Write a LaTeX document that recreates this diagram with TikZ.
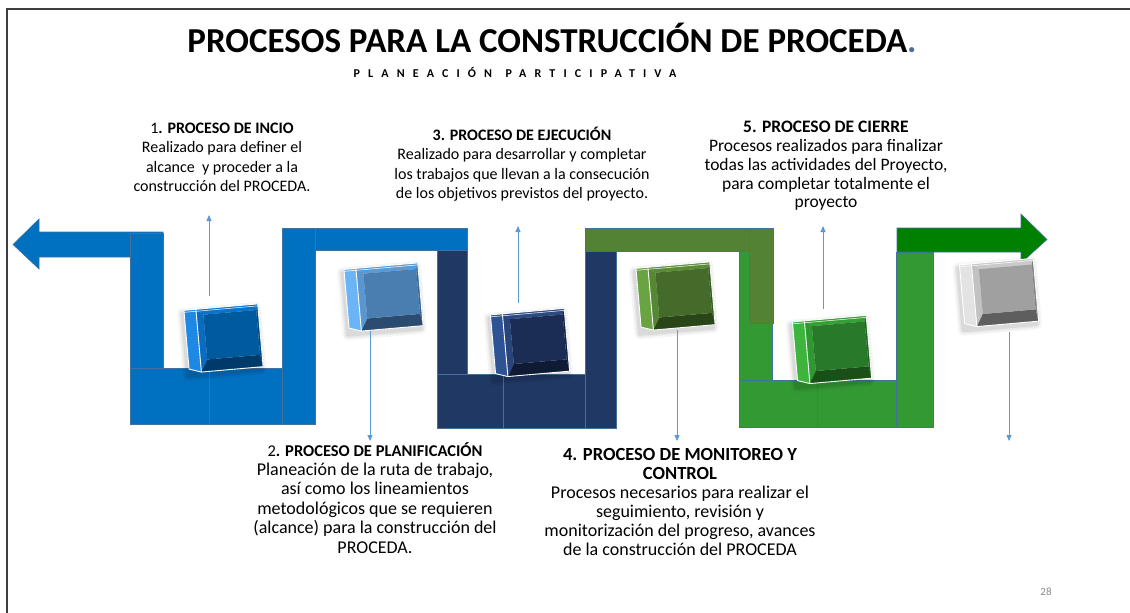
\documentclass[tikz,border=0pt]{standalone}
\usepackage{fontspec}
\setmainfont{Carlito}
\usetikzlibrary{arrows.meta}
\definecolor{cblue}{HTML}{0070C0}
\definecolor{cnavy}{HTML}{203864}
\definecolor{colive}{HTML}{548235}
\definecolor{cgreen}{HTML}{339933}
\definecolor{cdgreen}{HTML}{008000}
\definecolor{cedge}{HTML}{41719C}
\definecolor{cconn}{HTML}{5B9BD5}
\definecolor{cframe}{HTML}{404040}
\definecolor{cdot}{HTML}{4F6D9A}
\definecolor{cpage}{HTML}{8C8C8C}
% box colours: side, top, left, face, right, bottom
\definecolor{aS}{HTML}{1E88E5}\definecolor{aT}{HTML}{0A74CC}\definecolor{aL}{HTML}{0A6CC0}\definecolor{aF}{HTML}{005A9E}\definecolor{aR}{HTML}{004A85}\definecolor{aB}{HTML}{003A6B}
\definecolor{bS}{HTML}{6BB5F7}\definecolor{bT}{HTML}{5B9BD5}\definecolor{bL}{HTML}{5A96CF}\definecolor{bF}{HTML}{4A7DB0}\definecolor{bR}{HTML}{3A6591}\definecolor{bB}{HTML}{2B4C70}
\definecolor{cS}{HTML}{2E5395}\definecolor{cT}{HTML}{2A4A80}\definecolor{cL}{HTML}{27457A}\definecolor{cF}{HTML}{1B2D55}\definecolor{cR}{HTML}{152445}\definecolor{cB}{HTML}{0F1A35}
\definecolor{dS}{HTML}{6AA341}\definecolor{dT}{HTML}{5A8C37}\definecolor{dL}{HTML}{568735}\definecolor{dF}{HTML}{446B29}\definecolor{dR}{HTML}{38591F}\definecolor{dB}{HTML}{2A4517}
\definecolor{eS}{HTML}{3DB53D}\definecolor{eT}{HTML}{34A034}\definecolor{eL}{HTML}{309830}\definecolor{eF}{HTML}{287A2A}\definecolor{eR}{HTML}{206620}\definecolor{eB}{HTML}{185018}
\definecolor{fS}{HTML}{E3E3E3}\definecolor{fT}{HTML}{C9C9C9}\definecolor{fL}{HTML}{C2C2C2}\definecolor{fF}{HTML}{A0A0A0}\definecolor{fR}{HTML}{808080}\definecolor{fB}{HTML}{5E5E5E}
% #1 name, #2 x, #3 y, #4 colour prefix
\newcommand\bevbox[4]{%
  \coordinate (#1) at (#2,#3);
  \begin{scope}[shift={(#2,#3)},rotate=5]
    \foreach \s/\o in {5/0.04,3/0.05,1.5/0.06}
      \fill[black,opacity=\o,rounded corners=\s pt] (-37-\s-2,-31-\s+3) rectangle (37+\s-2,32+\s+3);
    \fill[#4S] (-37,-31) -- (-25,-31) -- (-25,32) -- (-37,28) -- cycle;
    \fill[#4T] (-25,-31) -- (37,-31) -- (35,-25) -- (-18,-25) -- cycle;
    \fill[#4L] (-25,-31) -- (-18,-25) -- (-18,20) -- (-25,32) -- cycle;
    \fill[#4B] (-25,32) -- (37,32) -- (35,20) -- (-18,20) -- cycle;
    \fill[#4R] (37,-31) -- (37,32) -- (35,20) -- (35,-25) -- cycle;
    \fill[#4F] (-18,-25) rectangle (35,20);
    \draw[white,line width=0.9pt,line join=round] (-37,-31) -- (37,-31) -- (37,32) -- (-25,32) -- (-37,28) -- cycle;
    \draw[white,line width=0.9pt] (-25,-31) -- (-25,32);
    \draw[white,line width=0.5pt] (-37,-29) -- (37,-29);
  \end{scope}}
\begin{document}
\begin{tikzpicture}[x=1pt,y=-1pt,
  piece/.style={draw=cedge,line width=0.6pt},
  conn/.style={draw=cconn,line width=0.9pt,-{Triangle[width=5pt,length=6pt]}},
  txt/.style={align=center,inner sep=0pt,text=black}]
\useasboundingbox (0,0) rectangle (1130,613);
\fill[white] (0,0) rectangle (1130,613);
% frame
\draw[cframe,line width=1.5pt] (7,613) -- (7,9) -- (1130,9);
% titles
\node[anchor=base,inner sep=0pt,font=\fontsize{35}{38}\selectfont\bfseries] (title) at (552,52) {PROCESOS PARA LA CONSTRUCCIÓN DE PROCEDA\textcolor{cdot}{.}};
\node[anchor=base,inner sep=0pt,font=\fontsize{12}{13}\selectfont\bfseries\addfontfeature{LetterSpace=68}] (sub) at (515,77) {PLANEACIÓN\hspace{2.5pt} PARTICIPATIVA};
% ---- blue pieces
\filldraw[piece,fill=cblue] (163,232) -- (39,232) -- (39,219) -- (13,244.5) -- (39,269) -- (39,257) -- (163,257) -- cycle;
\filldraw[piece,fill=cblue] (130,233) rectangle (163,424);
\filldraw[piece,fill=cblue] (130,368) rectangle (209,424);
\filldraw[piece,fill=cblue] (209,368) rectangle (315,424);
\filldraw[piece,fill=cblue] (282,228) rectangle (467,250);
\filldraw[piece,fill=cblue] (282,228) rectangle (315,424);
\fill[cblue] (283,229) rectangle (314,249);
% ---- navy pieces
\filldraw[piece,fill=cnavy] (437,250) rectangle (467,428);
\filldraw[piece,fill=cnavy] (437,374) rectangle (503,428);
\filldraw[piece,fill=cnavy] (503,374) rectangle (616,428);
\filldraw[piece,fill=cnavy] (585,251) rectangle (616,428);
\fill[cnavy] (586,375) rectangle (615,427);
% ---- green pieces
\filldraw[piece,fill=cgreen] (739,251) rectangle (772,427);
\filldraw[piece,fill=colive] (585,228) rectangle (773,251);
\filldraw[piece,fill=colive] (749,228) rectangle (773,323);
\fill[colive] (750,229) rectangle (772,250);
\filldraw[piece,fill=cgreen] (739,380) rectangle (817,427);
\filldraw[piece,fill=cgreen] (817,380) rectangle (933,427);
\filldraw[piece,fill=cgreen] (896,252) rectangle (933,427);
\fill[cgreen] (897,381) rectangle (932,426);
\filldraw[piece,fill=cdgreen] (897,228) -- (1021,228) -- (1021,214) -- (1047,239.5) -- (1021,263) -- (1021,252) -- (897,252) -- cycle;
% ---- boxes
\bevbox{b1}{223.5}{338}{a}
\bevbox{b2}{383.5}{297}{b}
\bevbox{b3}{530}{342.5}{c}
\bevbox{b4}{675.5}{296}{d}
\bevbox{b5}{832}{349.5}{e}
\bevbox{b6}{999}{292.5}{f}
% ---- connector ends
\coordinate (s1) at (209,296); \coordinate (e1) at (209,215);
\coordinate (s2) at (370,331); \coordinate (e2) at (370,441);
\coordinate (s3) at (518,303); \coordinate (e3) at (518,226);
\coordinate (s4) at (677,330); \coordinate (e4) at (677,441);
\coordinate (s5) at (823,309); \coordinate (e5) at (823,226);
\coordinate (s6) at (1009,332); \coordinate (e6) at (1009,441);
\draw[conn] (s1) -- (e1);
\draw[conn] (s2) -- (e2);
\draw[conn] (s3) -- (e3);
\draw[conn] (s4) -- (e4);
\draw[conn] (s5) -- (e5);
\draw[conn] (s6) -- (e6);
% ---- texts (base anchor = baseline of last line)
\node[txt,anchor=base,font=\fontsize{16}{19.5}\selectfont] (t1) at (222,191.5) {1\textbf{. PROCESO DE INCIO}\\Realizado para definer el\\alcance\ \ y proceder a la\\construcción del PROCEDA.};
\node[txt,anchor=base,font=\fontsize{16}{19.5}\selectfont] (t3) at (522,198.5) {\textbf{3. PROCESO DE EJECUCIÓN}\\Realizado para desarrollar y completar\\los trabajos que llevan a la consecución\\de los objetivos previstos del proyecto.};
\node[txt,anchor=base,font=\fontsize{17.5}{18.8}\selectfont] (t5) at (826,207.8) {\textbf{5. PROCESO DE CIERRE}\\Procesos realizados para finalizar\\todas las actividades del Proyecto,\\para completar totalmente el\\proyecto};
\node[txt,anchor=base,font=\fontsize{18}{19.4}\selectfont] (t2) at (375,553) {{\fontsize{16.5}{19.4}\selectfont 2\textbf{. PROCESO DE PLANIFICACIÓN}}\\Planeación de la ruta de trabajo,\\así como los lineamientos\\metodológicos que se requieren\\(alcance) para la construcción del\\PROCEDA.};
\node[txt,anchor=base,font=\fontsize{18}{19}\selectfont] (t4) at (680,555) {{\fontsize{18.5}{19}\selectfont\bfseries 4. PROCESO DE MONITOREO Y}\\{\fontsize{18.5}{19}\selectfont\bfseries CONTROL}\\Procesos necesarios para realizar el\\seguimiento, revisión y\\monitorización del progreso, avances\\de la construcción del PROCEDA};
\node[anchor=base,inner sep=0pt,font=\fontsize{11}{13}\selectfont,text=cpage] (pg) at (1046,595) {28};
\end{tikzpicture}
\end{document}
